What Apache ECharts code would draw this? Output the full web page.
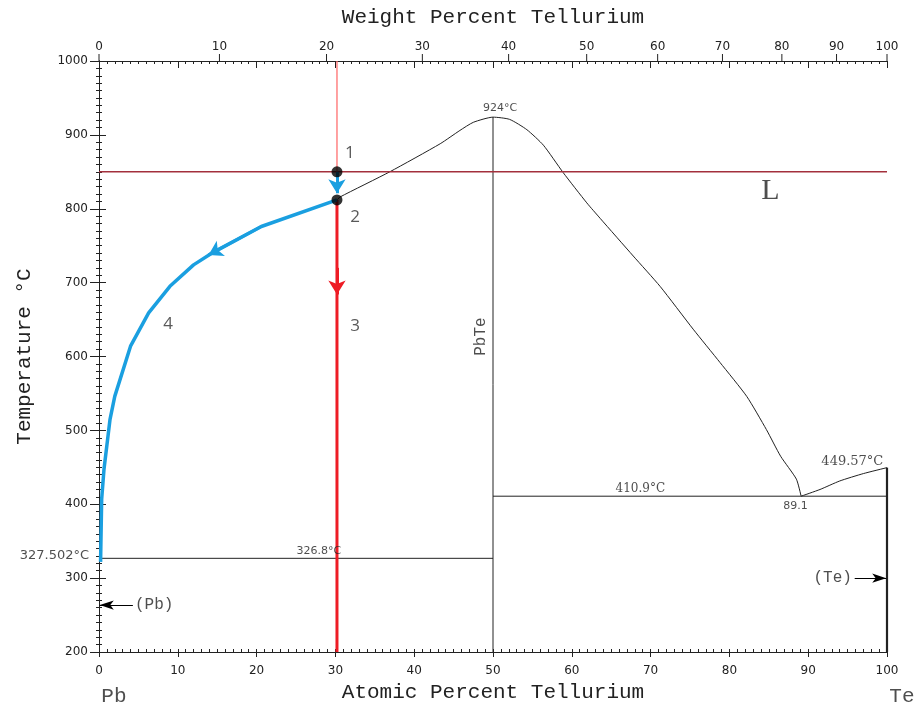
<!DOCTYPE html>
<html>
<head>
<meta charset="utf-8">
<script src="https://cdn.jsdelivr.net/npm/echarts@6.0.0/dist/echarts.min.js"></script>
<style>
  html, body { margin: 0; padding: 0; background: #fff; }
  #chart { width: 915px; height: 708px; }
</style>
</head>
<body>
<div id="chart"></div>
<script>
// Pb–Te phase diagram: atomic percent Te (x) against temperature in °C (y)

const weightTicks = [0, 10, 20, 30, 40, 50, 60, 70, 80, 90, 100];

// liquidus from the alloy point up over the PbTe maximum down to the Te-side eutectic
const liquidusPbTe = [
  [30.2, 812], [30.6, 816], [36.9, 850], [43.3, 888], [45.8, 906],
  [47.5, 917], [50, 924], [52.1, 921], [54.3, 907], [56.4, 886], [58.9, 849],
  [61.9, 808], [63.6, 787], [67.8, 736], [71.2, 695], [75.4, 637], [78.8, 592],
  [82.2, 546], [84.7, 501], [86.5, 465], [88.5, 434], [89.1, 410.9]
];
// liquidus between the eutectic and pure Te
const liquidusTe = [[89.1, 410.9], [91.5, 420], [94.0, 431.5], [97.0, 441.5], [100, 449.57]];
// path of the liquid composition while cooling (Pb-rich liquidus)
const liquidPath = [
  [30.2, 812], [20.6, 776], [14.5, 741], [12.0, 724], [9.0, 695], [6.3, 659],
  [4.0, 614], [2.0, 546], [1.4, 515], [0.63, 447], [0.34, 407], [0.2, 322]
];
const eutecticPb = [[0, 326.8], [50, 326.8]];
const eutecticTe = [[50, 410.9], [100, 410.9]];
const pbteLine = [[50, 200], [50, 924]];
const teSolid = [[100, 200], [100, 449.57]];
const isotherm = [[0, 850], [100, 850]];
const alloyAbove = [[30.2, 1000], [30.2, 850]];
const alloyBelow = [[30.2, 812], [30.2, 200]];
const alloyPoints = [[30.2, 850], [30.2, 812]];
// arrow segments: [tail, head]
const redArrow = [[30.2, 720], [30.2, 684]];
const blueStepArrow = [[30.2, 850], [30.2, 821]];
const bluePathArrow = [[20.6, 776], [13.9, 737.5]];
const pbPointer = [[4.3, 263.5], [0.1, 263.5]];
const tePointer = [[95.9, 300], [99.9, 300]];

// weight percent -> atomic percent for Pb–Te
const M_PB = 207.2, M_TE = 127.6;
function wtToAt(w) {
  const te = w / M_TE, pb = (100 - w) / M_PB;
  return 100 * te / (te + pb);
}

const INK = '#222';
const BLUE = '#1a9fe0';
const RED = '#ee1c25';
const NUM_FONT = 'DejaVu Sans';
const MONO = 'Liberation Mono';

function line(data, color, width, z, smooth) {
  return {
    type: 'line', data: data, symbol: 'none', silent: true, clip: false, z: z || 2,
    smooth: smooth || false,
    lineStyle: { color: color, width: width }
  };
}

function arrows(segs, color, width, size, z) {
  return {
    type: 'line', data: [], silent: true, z: z || 6,
    markLine: {
      silent: true, animation: false, symbol: ['none', 'arrow'], symbolSize: size,
      label: { show: false }, emphasis: { disabled: true },
      lineStyle: { color: color, width: width, type: 'solid' },
      data: segs.map(function (s) { return [{ coord: s[0] }, { coord: s[1] }]; })
    }
  };
}

function note(x, y, text, opts) {
  return {
    value: [x, y],
    label: Object.assign({
      show: true, formatter: text, position: 'inside',
      color: INK, fontFamily: NUM_FONT, fontSize: 11
    }, opts || {})
  };
}

const DIGIT = { fontFamily: 'Open Sans', fontSize: 17, color: '#303030' };
const notes = [
  note(50.9, 936.5, '924°C'),
  note(27.9, 337, '326.8°C'),
  note(-5.65, 331, '327.502°C', { fontSize: 13 }),
  note(68.7, 421, '410.9°C', { fontFamily: 'DejaVu Serif', fontSize: 12 }),
  note(88.4, 397, '89.1'),
  note(95.6, 457.7, '449.57°C', { fontFamily: 'DejaVu Serif', fontSize: 13 }),
  note(85.2, 824, 'L', { fontFamily: 'Liberation Serif', fontSize: 30 }),
  note(48.5, 627, 'PbTe', { fontFamily: MONO, fontSize: 16, rotate: 90 }),
  note(7.0, 263.5, '(Pb)', { fontFamily: MONO, fontSize: 16 }),
  note(93.1, 300, '(Te)', { fontFamily: MONO, fontSize: 16 }),
  note(1.9, 140.5, 'Pb', { fontFamily: MONO, fontSize: 21 }),
  note(101.9, 140.5, 'Te', { fontFamily: MONO, fontSize: 21 }),
  note(31.85, 875.7, '1', DIGIT),
  note(32.5, 789.2, '2', DIGIT),
  note(32.5, 640.5, '3', DIGIT),
  note(8.76, 643.2, '4', DIGIT)
];

const axisLine = { show: true, lineStyle: { color: INK, width: 1 } };
const tickLbl = { color: INK, fontFamily: NUM_FONT, fontSize: 12, formatter: function (v) { return String(v); } };

const option = {
  animation: false,
  backgroundColor: '#fff',
  grid: { left: 99, right: 28, top: 61, bottom: 55, containLabel: false },
  xAxis: [
    {
      type: 'value', position: 'bottom', min: 0, max: 100, interval: 10,
      axisLine: axisLine, splitLine: { show: false },
      axisTick: { show: true, inside: false, length: 5, lineStyle: { color: INK } },
      axisLabel: Object.assign({ margin: 13 }, tickLbl),
      name: 'Atomic Percent Tellurium', nameLocation: 'middle', nameGap: 30,
      nameTextStyle: { fontFamily: MONO, fontSize: 21, color: INK }
    },
    {
      type: 'value', position: 'bottom', min: 0, max: 100, interval: 1,
      axisLine: { show: false }, splitLine: { show: false }, axisLabel: { show: false },
      axisTick: { show: true, inside: true, length: 3, lineStyle: { color: INK } }
    },
    {
      type: 'value', position: 'top', min: 0, max: 100, interval: 10,
      axisLine: axisLine, splitLine: { show: false }, axisLabel: { show: false },
      axisTick: { show: true, inside: true, length: 7, lineStyle: { color: INK } },
      name: 'Weight Percent Tellurium', nameLocation: 'middle', nameGap: 33,
      nameTextStyle: { fontFamily: MONO, fontSize: 21, color: INK }
    },
    {
      type: 'value', position: 'top', min: 0, max: 100, interval: 1,
      axisLine: { show: false }, splitLine: { show: false }, axisLabel: { show: false },
      axisTick: { show: true, inside: true, length: 3, lineStyle: { color: INK } }
    }
  ],
  yAxis: [
    {
      type: 'value', position: 'left', min: 200, max: 1000, interval: 100,
      axisLine: axisLine, splitLine: { show: false },
      axisTick: { show: true, inside: false, length: 9, lineStyle: { color: INK } },
      minorTick: { show: true, splitNumber: 10, length: 3, lineStyle: { color: INK } },
      axisLabel: Object.assign({ margin: 11 }, tickLbl),
      name: 'Temperature °C', nameLocation: 'middle', nameRotate: 90, nameGap: 64,
      nameTextStyle: { fontFamily: MONO, fontSize: 21, color: INK }
    },
    {
      type: 'value', position: 'right', min: 200, max: 1000, interval: 100,
      axisLine: axisLine, splitLine: { show: false }, axisLabel: { show: false },
      axisTick: { show: true, inside: false, length: 7, lineStyle: { color: INK } },
      minorTick: { show: true, splitNumber: 10, length: 3, lineStyle: { color: INK } }
    }
  ],
  series: [
    // weight-percent scale along the top edge
    {
      type: 'custom', silent: true, clip: false, z: 5,
      data: weightTicks.map(function (w) { return [wtToAt(w), 1000, w]; }),
      encode: { x: 0, y: 1 },
      renderItem: function (params, api) {
        const p = api.coord([api.value(0), api.value(1)]);
        return {
          type: 'group',
          children: [
            { type: 'line', shape: { x1: p[0], y1: p[1], x2: p[0], y2: p[1] - 7 },
              style: { stroke: INK, lineWidth: 1 } },
            { type: 'text', x: p[0], y: p[1] - 8,
              style: { text: String(api.value(2)), align: 'center', verticalAlign: 'bottom',
                       textAlign: 'center', textVerticalAlign: 'bottom',
                       font: '12px "DejaVu Sans"', fill: INK } }
          ]
        };
      }
    },
    line(eutecticPb, INK, 1),
    line(eutecticTe, INK, 1),
    line(pbteLine, INK, 1),
    line(teSolid, INK, 2.2),
    line(liquidusPbTe, INK, 1, 2, 0.2),
    line(liquidusTe, INK, 1, 2, 0.2),
    line(isotherm, '#a3303c', 1.5, 3),
    line(alloyAbove, '#ff6f6f', 1.3, 3),
    line(alloyBelow, RED, 3, 4),
    line(liquidPath, BLUE, 3.5, 4),
    arrows([redArrow], RED, 3, [13, 14], 6),
    arrows([blueStepArrow, bluePathArrow], BLUE, 3, [13, 14], 6),
    arrows([pbPointer, tePointer], '#000', 1, [7, 14], 6),
    // alloy state points 1 and 2
    {
      type: 'scatter', silent: true, z: 7, symbol: 'circle', symbolSize: 11,
      itemStyle: { color: '#000' }, data: alloyPoints
    },
    // text annotations
    {
      type: 'scatter', silent: true, clip: false, z: 8, symbolSize: 0,
      data: notes
    }
  ]
};

const chart = echarts.init(document.getElementById('chart'), null, { renderer: 'canvas' });
chart.setOption(option);
</script>
</body>
</html>
